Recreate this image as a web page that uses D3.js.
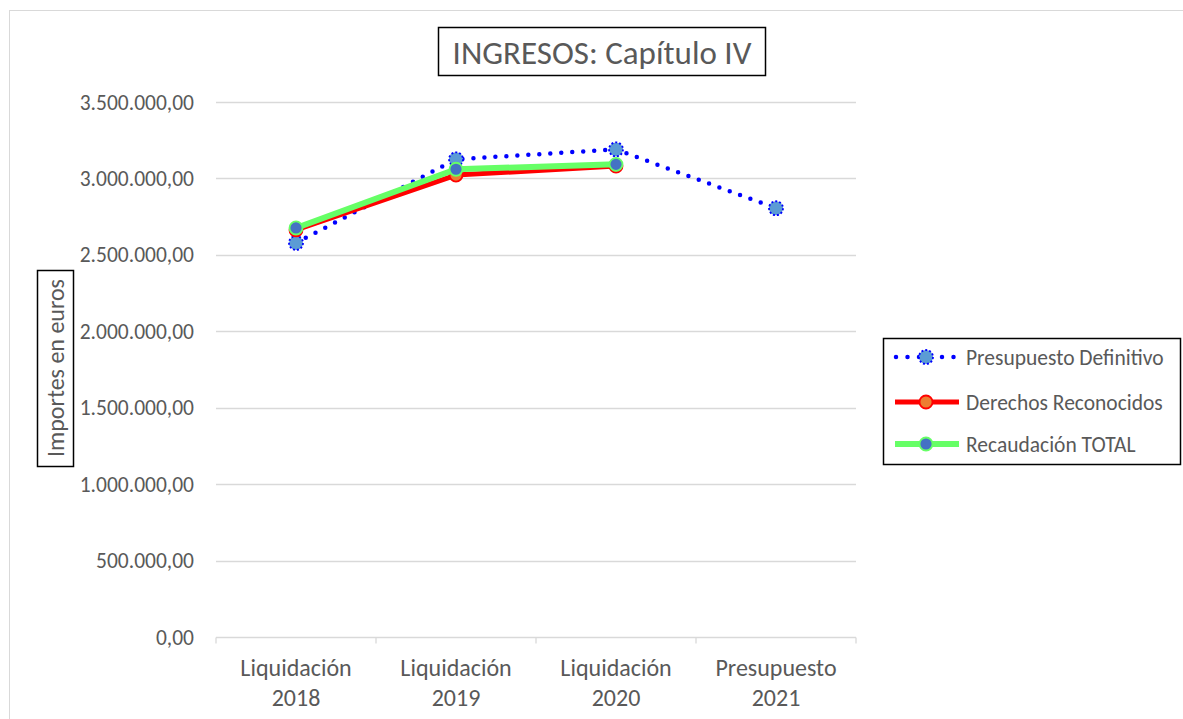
<!DOCTYPE html>
<html>
<head>
<meta charset="utf-8">
<script src="https://cdn.jsdelivr.net/npm/d3@7"></script>
<style>
  body { margin: 0; background: #fff; }
  svg { display: block; font-family: Carlito, Calibri, Lato, sans-serif; }
</style>
</head>
<body>
<div id="chart"></div>
<script>
const categories = [['Liquidación', '2018'], ['Liquidación', '2019'], ['Liquidación', '2020'], ['Presupuesto', '2021']];
const presupuestoDefinitivo = [2578000, 3125000, 3190000, 2805000];
const derechosReconocidos = [2663000, 3022000, 3081000, null];
const recaudacionTotal = [2676000, 3060000, 3092000, null];
const yTicks = [0, 500000, 1000000, 1500000, 2000000, 2500000, 3000000, 3500000];

const width = 1183;
const height = 719;
const plot = { left: 216, right: 856, top: 102, bottom: 637 };

const svg = d3.select('#chart')
  .append('svg')
  .attr('width', width)
  .attr('height', height);

// chart frame
svg.append('rect')
  .attr('x', 9.5).attr('y', 10.5)
  .attr('width', width).attr('height', height)
  .attr('fill', '#fff')
  .attr('stroke', '#d9d9d9');

const xScale = d3.scaleBand()
  .domain(d3.range(categories.length))
  .range([plot.left, plot.right]);

const yScale = d3.scaleLinear()
  .domain([0, 3500000])
  .range([plot.bottom, plot.top]);

const fmt = (v) => d3.format(',.2f')(v).replace(/,/g, 'X').replace('.', ',').replace(/X/g, '.');

// gridlines
svg.append('g')
  .attr('class', 'gridlines')
  .selectAll('line')
  .data(yTicks.filter((d) => d > 0))
  .join('line')
  .attr('x1', plot.left)
  .attr('x2', plot.right)
  .attr('y1', (d) => Math.round(yScale(d)) + 0.5)
  .attr('y2', (d) => Math.round(yScale(d)) + 0.5)
  .attr('stroke', '#d9d9d9')
  .attr('stroke-width', 1.3);

// y labels
svg.append('g')
  .selectAll('text')
  .data(yTicks)
  .join('text')
  .attr('x', 194)
  .attr('y', (d) => yScale(d))
  .attr('dy', '0.35em')
  .attr('text-anchor', 'end')
  .attr('fill', '#595959')
  .attr('font-size', 21.5)
  .text(fmt);

// x axis
const xAxis = svg.append('g')
  .attr('transform', `translate(0, ${Math.round(plot.bottom) + 0.5})`);
xAxis.append('line')
  .attr('x1', plot.left).attr('x2', plot.right)
  .attr('stroke', '#d9d9d9').attr('stroke-width', 1.3);
xAxis.selectAll('.tick')
  .data(d3.range(categories.length + 1))
  .join('line')
  .attr('x1', (i) => i < categories.length ? xScale(i) : plot.right)
  .attr('x2', (i) => i < categories.length ? xScale(i) : plot.right)
  .attr('y1', 0).attr('y2', 6)
  .attr('stroke', '#d9d9d9').attr('stroke-width', 1.3);

const xLabels = xAxis.selectAll('text')
  .data(categories)
  .join('text')
  .attr('x', (d, i) => xScale(i) + xScale.bandwidth() / 2)
  .attr('y', 38)
  .attr('text-anchor', 'middle')
  .attr('fill', '#595959')
  .attr('font-size', 24);
xLabels.append('tspan').text((d) => d[0]);
xLabels.append('tspan')
  .attr('x', (d, i) => xScale(i) + xScale.bandwidth() / 2)
  .attr('dy', 30)
  .text((d) => d[1]);

const cx = (i) => xScale(i) + xScale.bandwidth() / 2;

const series = [
  { name: 'Presupuesto Definitivo', values: presupuestoDefinitivo, stroke: '#0000ff', width: 4.5, dash: '0 11', marker: '#5b9bd5', markerStroke: '#0000ff', markerDash: '2 2', r: 7 },
  { name: 'Derechos Reconocidos', values: derechosReconocidos, stroke: '#ff0000', width: 5, dash: null, marker: '#ed7d31', markerStroke: '#ff0000', markerDash: null, r: 6.5 },
  { name: 'Recaudación TOTAL', values: recaudacionTotal, stroke: '#66ff66', width: 6, dash: null, marker: '#4472c4', markerStroke: '#66ff66', markerDash: null, r: 6.5 },
];

const line = d3.line()
  .defined((d) => d != null)
  .x((d, i) => cx(i))
  .y((d) => yScale(d));

series.forEach((s) => {
  svg.append('path')
    .datum(s.values)
    .attr('d', line)
    .attr('fill', 'none')
    .attr('stroke', s.stroke)
    .attr('stroke-width', s.width)
    .attr('stroke-linecap', 'round')
    .attr('stroke-linejoin', 'round')
    .attr('stroke-dasharray', s.dash);

  svg.append('g')
    .selectAll('circle')
    .data(s.values.map((v, i) => ({ v, i })).filter((d) => d.v != null))
    .join('circle')
    .attr('cx', (d) => cx(d.i))
    .attr('cy', (d) => yScale(d.v))
    .attr('r', s.r)
    .attr('fill', s.marker)
    .attr('stroke', s.markerStroke)
    .attr('stroke-width', 1.8)
    .attr('stroke-dasharray', s.markerDash);
});

// title
svg.append('rect')
  .attr('x', 438.5).attr('y', 27.5)
  .attr('width', 327).attr('height', 48)
  .attr('fill', '#fff')
  .attr('stroke', '#000')
  .attr('stroke-width', 1.5);
svg.append('text')
  .attr('x', 602).attr('y', 52)
  .attr('dy', '0.35em')
  .attr('text-anchor', 'middle')
  .attr('fill', '#595959')
  .attr('font-size', 33)
  .text('INGRESOS: Capítulo IV');

// y axis title
svg.append('rect')
  .attr('x', 37.5).attr('y', 270.5)
  .attr('width', 36).attr('height', 196)
  .attr('fill', '#fff')
  .attr('stroke', '#000')
  .attr('stroke-width', 1.5);
svg.append('text')
  .attr('transform', 'translate(56, 368) rotate(-90)')
  .attr('dy', '0.35em')
  .attr('text-anchor', 'middle')
  .attr('fill', '#595959')
  .attr('font-size', 24)
  .text('Importes en euros');

// legend
const legend = svg.append('g');
legend.append('rect')
  .attr('x', 883.5).attr('y', 338.5)
  .attr('width', 297).attr('height', 126)
  .attr('fill', '#fff')
  .attr('stroke', '#000')
  .attr('stroke-width', 1.5);
const legendY = [357, 402, 444];
series.forEach((s, i) => {
  const g = legend.append('g').attr('transform', `translate(0, ${legendY[i]})`);
  g.append('line')
    .attr('x1', s.dash ? 896 : 895).attr('x2', s.dash ? 955 : 959)
    .attr('stroke', s.stroke)
    .attr('stroke-width', s.width)
    .attr('stroke-linecap', s.dash ? 'round' : 'butt')
    .attr('stroke-dasharray', s.dash ? '0 11.5' : null);
  g.append('circle')
    .attr('cx', 926)
    .attr('r', s.r)
    .attr('fill', s.marker)
    .attr('stroke', s.markerStroke)
    .attr('stroke-width', 1.8)
    .attr('stroke-dasharray', s.markerDash);
  g.append('text')
    .attr('x', 966)
    .attr('dy', '0.35em')
    .attr('fill', '#595959')
    .attr('font-size', 21.5)
    .text(s.name);
});
</script>
</body>
</html>
